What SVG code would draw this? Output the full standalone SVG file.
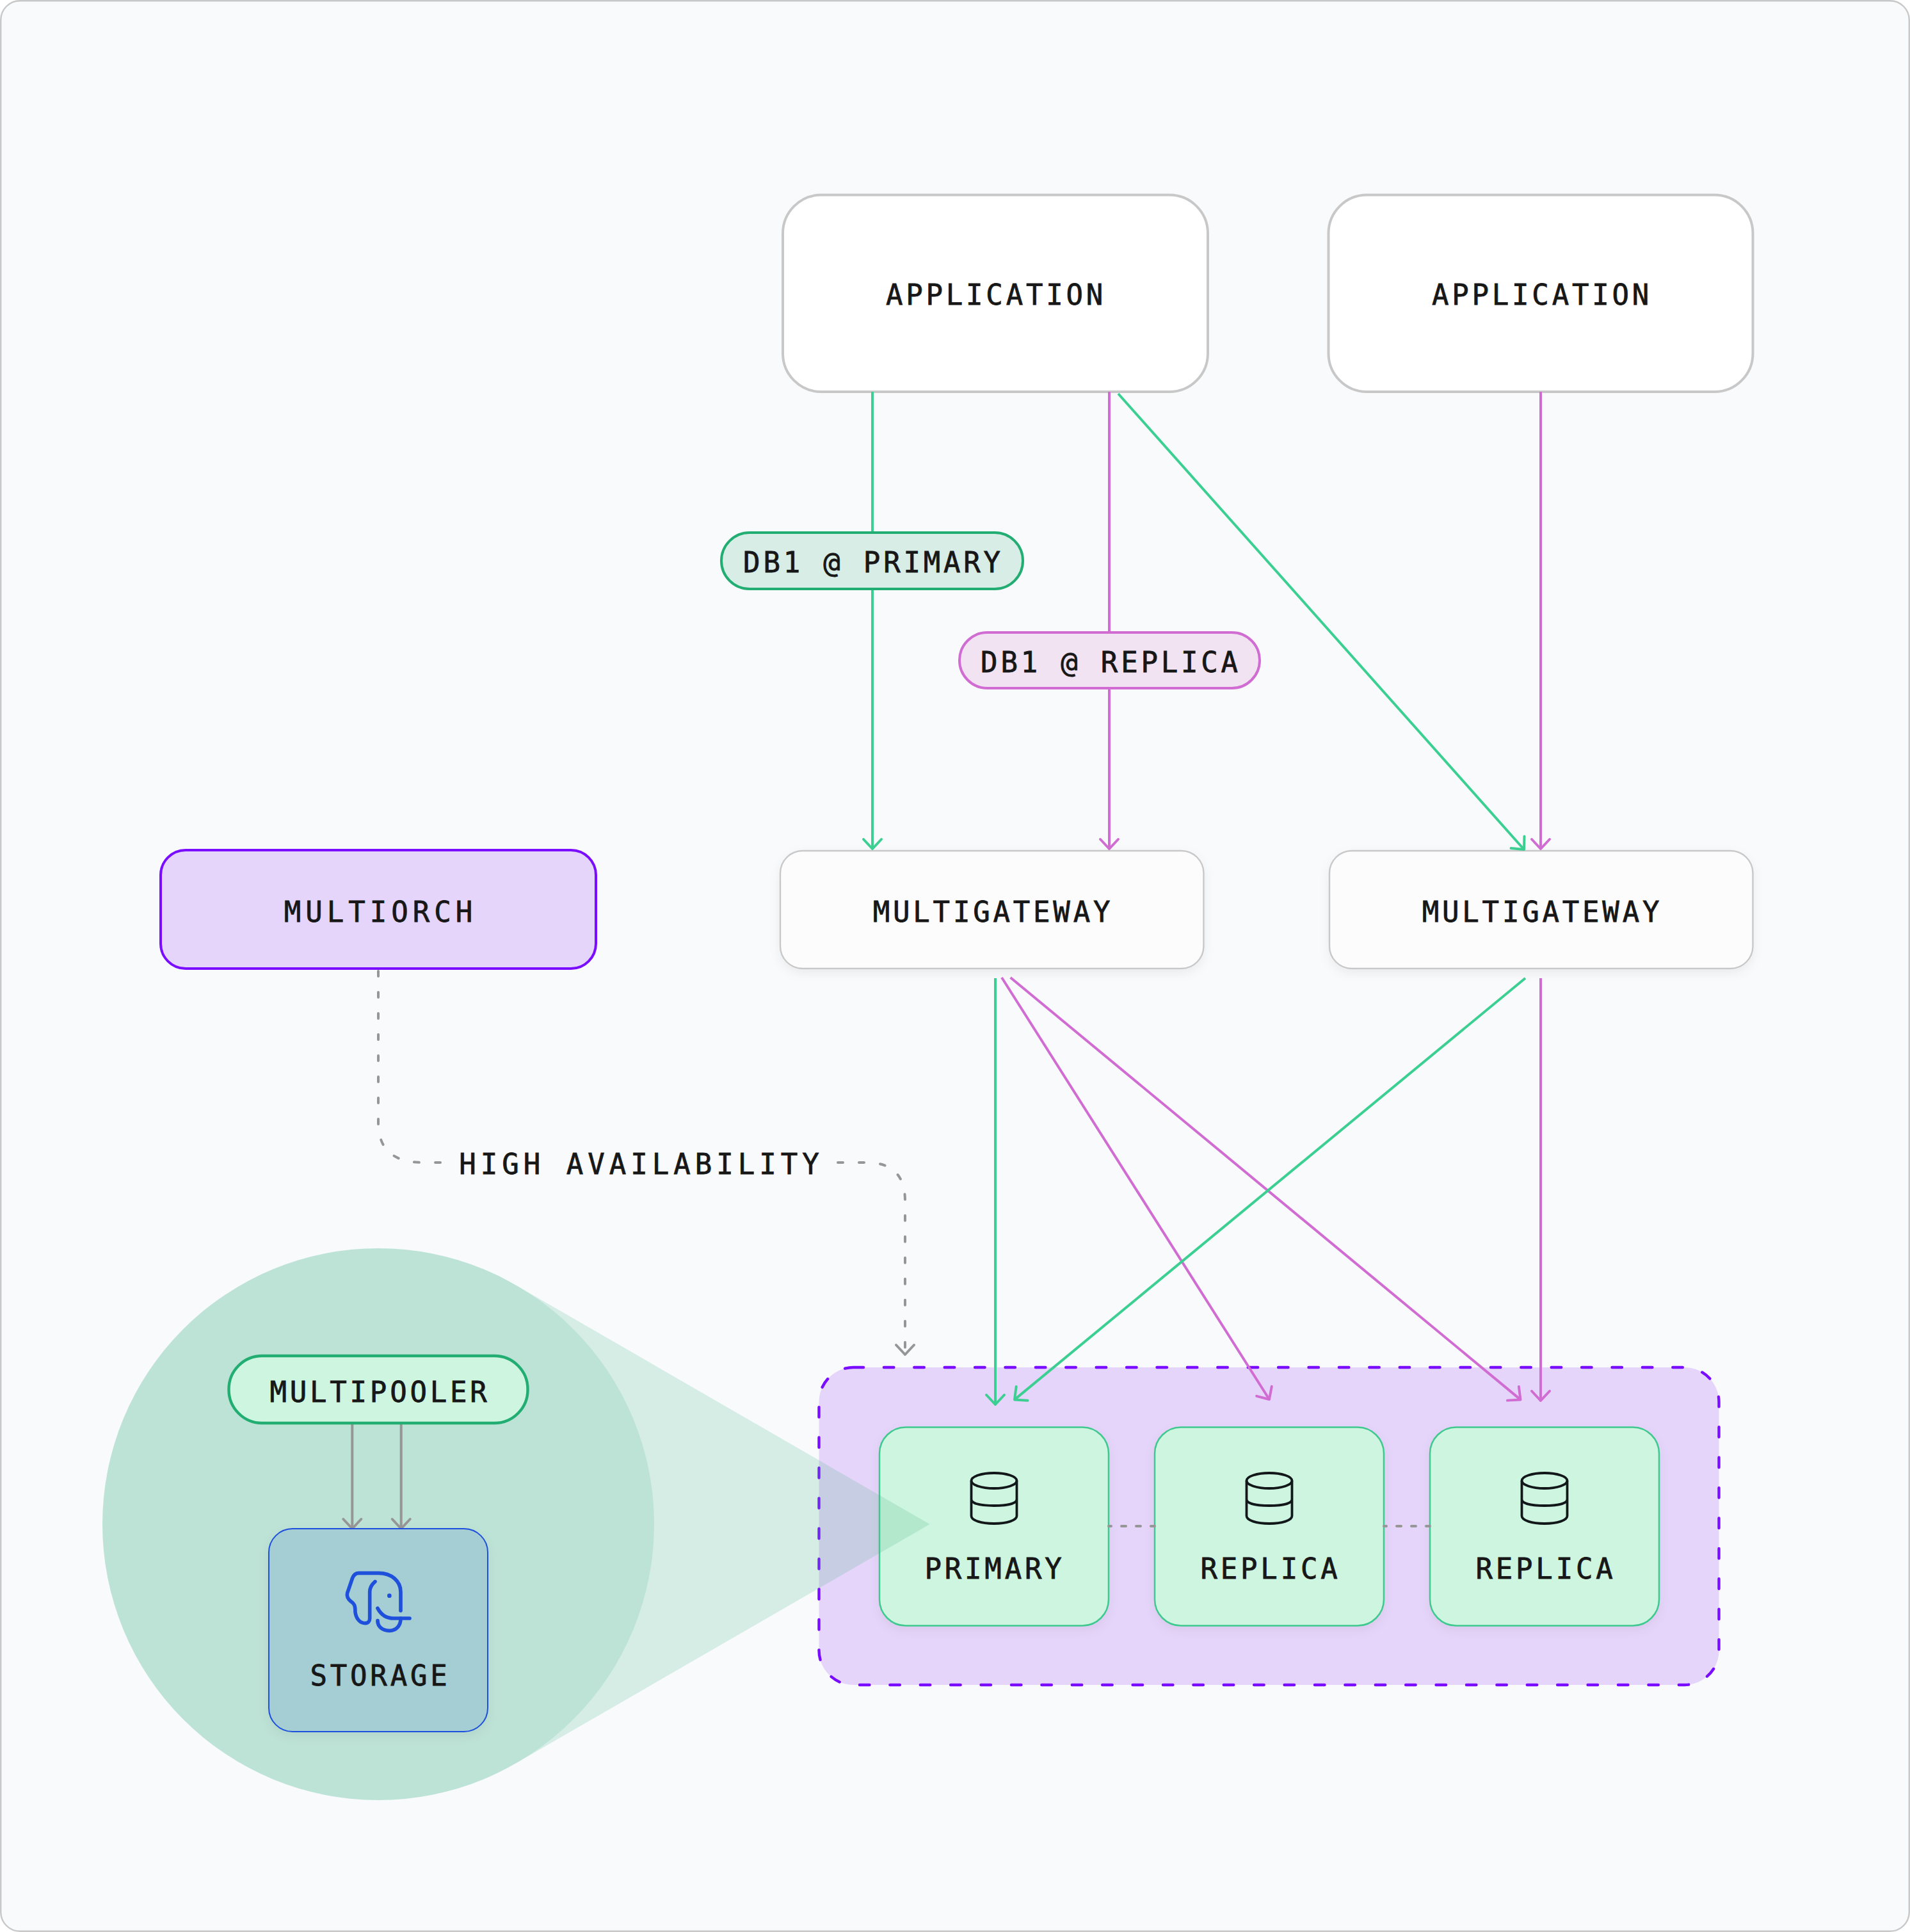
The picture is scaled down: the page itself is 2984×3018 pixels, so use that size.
<svg xmlns="http://www.w3.org/2000/svg" width="2984" height="3018" viewBox="0 0 2984 3018">
<style>
text{font-family:"DejaVu Sans Mono","Liberation Mono",monospace;font-size:44px;letter-spacing:4.8px;fill:#171717;stroke:#171717;stroke-width:.8px;text-anchor:middle}
.wide{letter-spacing:7px}
.edge{fill:none;stroke-width:4}
.g{stroke:#3ccf92}.p{stroke:#d06cd2}.k{stroke:#969696}
.dash{stroke-dasharray:8 25;stroke-linecap:round}
.db{fill:none;stroke:#12171a;stroke-width:3.8}
.box{fill:#cdf5df;stroke:#3fc98f;stroke-width:2.5}
</style>
<defs>
<filter id="sh" x="-10%" y="-10%" width="120%" height="125%"><feDropShadow dx="0" dy="6" stdDeviation="8" flood-color="#000" flood-opacity=".06"/></filter>
<marker id="ag" markerUnits="userSpaceOnUse" markerWidth="40" markerHeight="40" refX="20" refY="20" viewBox="0 0 40 40" orient="auto" overflow="visible"><path d="M5 6L20 20L5 34" fill="none" stroke="#3ccf92" stroke-width="4" stroke-linecap="round" stroke-linejoin="round"/></marker>
<marker id="ap" markerUnits="userSpaceOnUse" markerWidth="40" markerHeight="40" refX="20" refY="20" viewBox="0 0 40 40" orient="auto" overflow="visible"><path d="M5 6L20 20L5 34" fill="none" stroke="#d06cd2" stroke-width="4" stroke-linecap="round" stroke-linejoin="round"/></marker>
<marker id="ak" markerUnits="userSpaceOnUse" markerWidth="40" markerHeight="40" refX="20" refY="20" viewBox="0 0 40 40" orient="auto" overflow="visible"><path d="M5 6L20 20L5 34" fill="none" stroke="#969696" stroke-width="4" stroke-linecap="round" stroke-linejoin="round"/></marker>
<g id="dbicon" class="db"><ellipse cx="0" cy="2313" rx="35.5" ry="12"/><path d="M-35.5 2313V2368C-35.5 2375-20 2380 0 2380S35.5 2375 35.5 2368V2313M-35.5 2342C-35.5 2349-20 2352 0 2352S35.5 2349 35.5 2342"/></g>
</defs>
<rect x="1.2" y="1.2" width="2981.6" height="3015.6" rx="30" fill="#f8fafc" stroke="#c8c8c8" stroke-width="2.4"/>

<g id="replica-set"><rect x="1279.5" y="2136" width="1406" height="496" rx="54" fill="#e6d5fa" stroke="#7a0cff" stroke-width="4.4" stroke-dasharray="15.5 31.9" stroke-linecap="round"/></g>
<g id="primary"><rect class="box" x="1374" y="2229.5" width="358" height="310" rx="41" filter="url(#sh)"/><use href="#dbicon" x="1553"/><text x="1554" y="2466">PRIMARY</text></g>
<g id="replica-1"><rect class="box" x="1804" y="2229.5" width="358" height="310" rx="41" filter="url(#sh)"/><use href="#dbicon" x="1983"/><text x="1985" y="2466">REPLICA</text></g>
<g id="replica-2"><rect class="box" x="2234" y="2229.5" width="358" height="310" rx="41" filter="url(#sh)"/><use href="#dbicon" x="2413"/><text x="2415" y="2466">REPLICA</text></g>

<g id="zoom-cone"><polygon points="806.5,2008 1452.5,2381 806.5,2754" fill="#3fb080" fill-opacity=".18"/><circle cx="591" cy="2381" r="431" fill="#bde3d6"/></g>

<g id="application-1"><rect x="1223" y="304.5" width="664" height="307.5" rx="60" fill="#fff" stroke="#c8c8c8" stroke-width="4"/><text x="1556" y="476">APPLICATION</text></g>
<g id="application-2"><rect x="2075.5" y="304.5" width="663" height="307.5" rx="60" fill="#fff" stroke="#c8c8c8" stroke-width="4"/><text x="2409" y="476">APPLICATION</text></g>
<g id="multigateway-1"><rect x="1219" y="1329" width="661.5" height="184" rx="35" fill="#fcfcfd" stroke="#c8c8c8" stroke-width="2.4" filter="url(#sh)"/><text x="1551.5" y="1440">MULTIGATEWAY</text></g>
<g id="multigateway-2"><rect x="2077" y="1329" width="661.5" height="184" rx="35" fill="#fcfcfd" stroke="#c8c8c8" stroke-width="2.4" filter="url(#sh)"/><text x="2409.5" y="1440">MULTIGATEWAY</text></g>
<g id="multiorch"><rect x="251" y="1328" width="680" height="185" rx="39" fill="#e6d5fa" stroke="#7a0cff" stroke-width="4"/><text class="wide" x="594.5" y="1440">MULTIORCH</text></g>

<g id="connectors">
<path class="edge g" d="M1363 612V1326" marker-end="url(#ag)"/>
<path class="edge p" d="M1733 612V1326" marker-end="url(#ap)"/>
<path class="edge g" d="M1747 615L2381 1327" marker-end="url(#ag)"/>
<path class="edge p" d="M2407 612V1326" marker-end="url(#ap)"/>
<path class="edge g" d="M1555 1528V2194" marker-end="url(#ag)"/>
<path class="edge p" d="M1565 1527L1983 2186" marker-end="url(#ap)"/>
<path class="edge p" d="M1578.6 1527L2375.5 2186.4" marker-end="url(#ap)"/>
<path class="edge g" d="M2383 1528L1585 2186.4" marker-end="url(#ag)"/>
<path class="edge p" d="M2407 1528V2188" marker-end="url(#ap)"/>
<path class="edge k dash" d="M591 1517V1757Q593 1816 661 1816H693"/>
<path class="edge k dash" d="M1309 1816H1354Q1414 1816 1414 1876V2116" marker-end="url(#ak)"/>
<path class="edge k" d="M1732 2384H1804M2162 2384H2234" stroke-dasharray="7 16" stroke-dashoffset="3" stroke-linecap="round"/>
<path class="edge k" d="M550.3 2225V2388" marker-end="url(#ak)"/>
<path class="edge k" d="M626.7 2225V2388" marker-end="url(#ak)"/>
</g>

<g id="label-primary"><rect x="1127" y="832" width="471" height="88" rx="44" fill="#d8ede5" stroke="#22ad72" stroke-width="4"/><text x="1364.5" y="894">DB1 @ PRIMARY</text></g>
<g id="label-replica"><rect x="1499" y="988" width="469" height="87" rx="43.5" fill="#f2e3f3" stroke="#d06cd2" stroke-width="4"/><text x="1735.5" y="1050">DB1 @ REPLICA</text></g>
<g id="label-ha"><text class="wide" x="1002" y="1834">HIGH AVAILABILITY</text></g>

<g id="multipooler"><rect x="357.5" y="2118" width="467" height="105" rx="52" fill="#cdf5df" stroke="#22ad72" stroke-width="4.4"/><text x="593.5" y="2189.5">MULTIPOOLER</text></g>
<g id="storage"><rect x="420" y="2388" width="342" height="317" rx="37" fill="#a5cdd4" stroke="#1e50dc" stroke-width="2" filter="url(#sh)"/>
<g transform="translate(540 2420) scale(.3333)" fill="none" stroke="#1e50dc" stroke-width="17" stroke-linecap="round" stroke-linejoin="round"><path d="M258 288V200C258 150 215 112 155 112H62C48 112 38 120 32 135L8 205C4 222 12 235 25 245C40 255 45 262 45 295C50 330 70 347 92 347C105 347 113 338 113 325V200C113 180 123 165 138 152"/><path d="M150 277C165 305 190 324 225 324H300"/><path d="M150 335C150 362 172 382 205 382C238 382 258 358 258 324"/><circle cx="205" cy="218" r="10" fill="#1e50dc" stroke="none"/></g>
<text x="594" y="2632.5">STORAGE</text></g>
</svg>
